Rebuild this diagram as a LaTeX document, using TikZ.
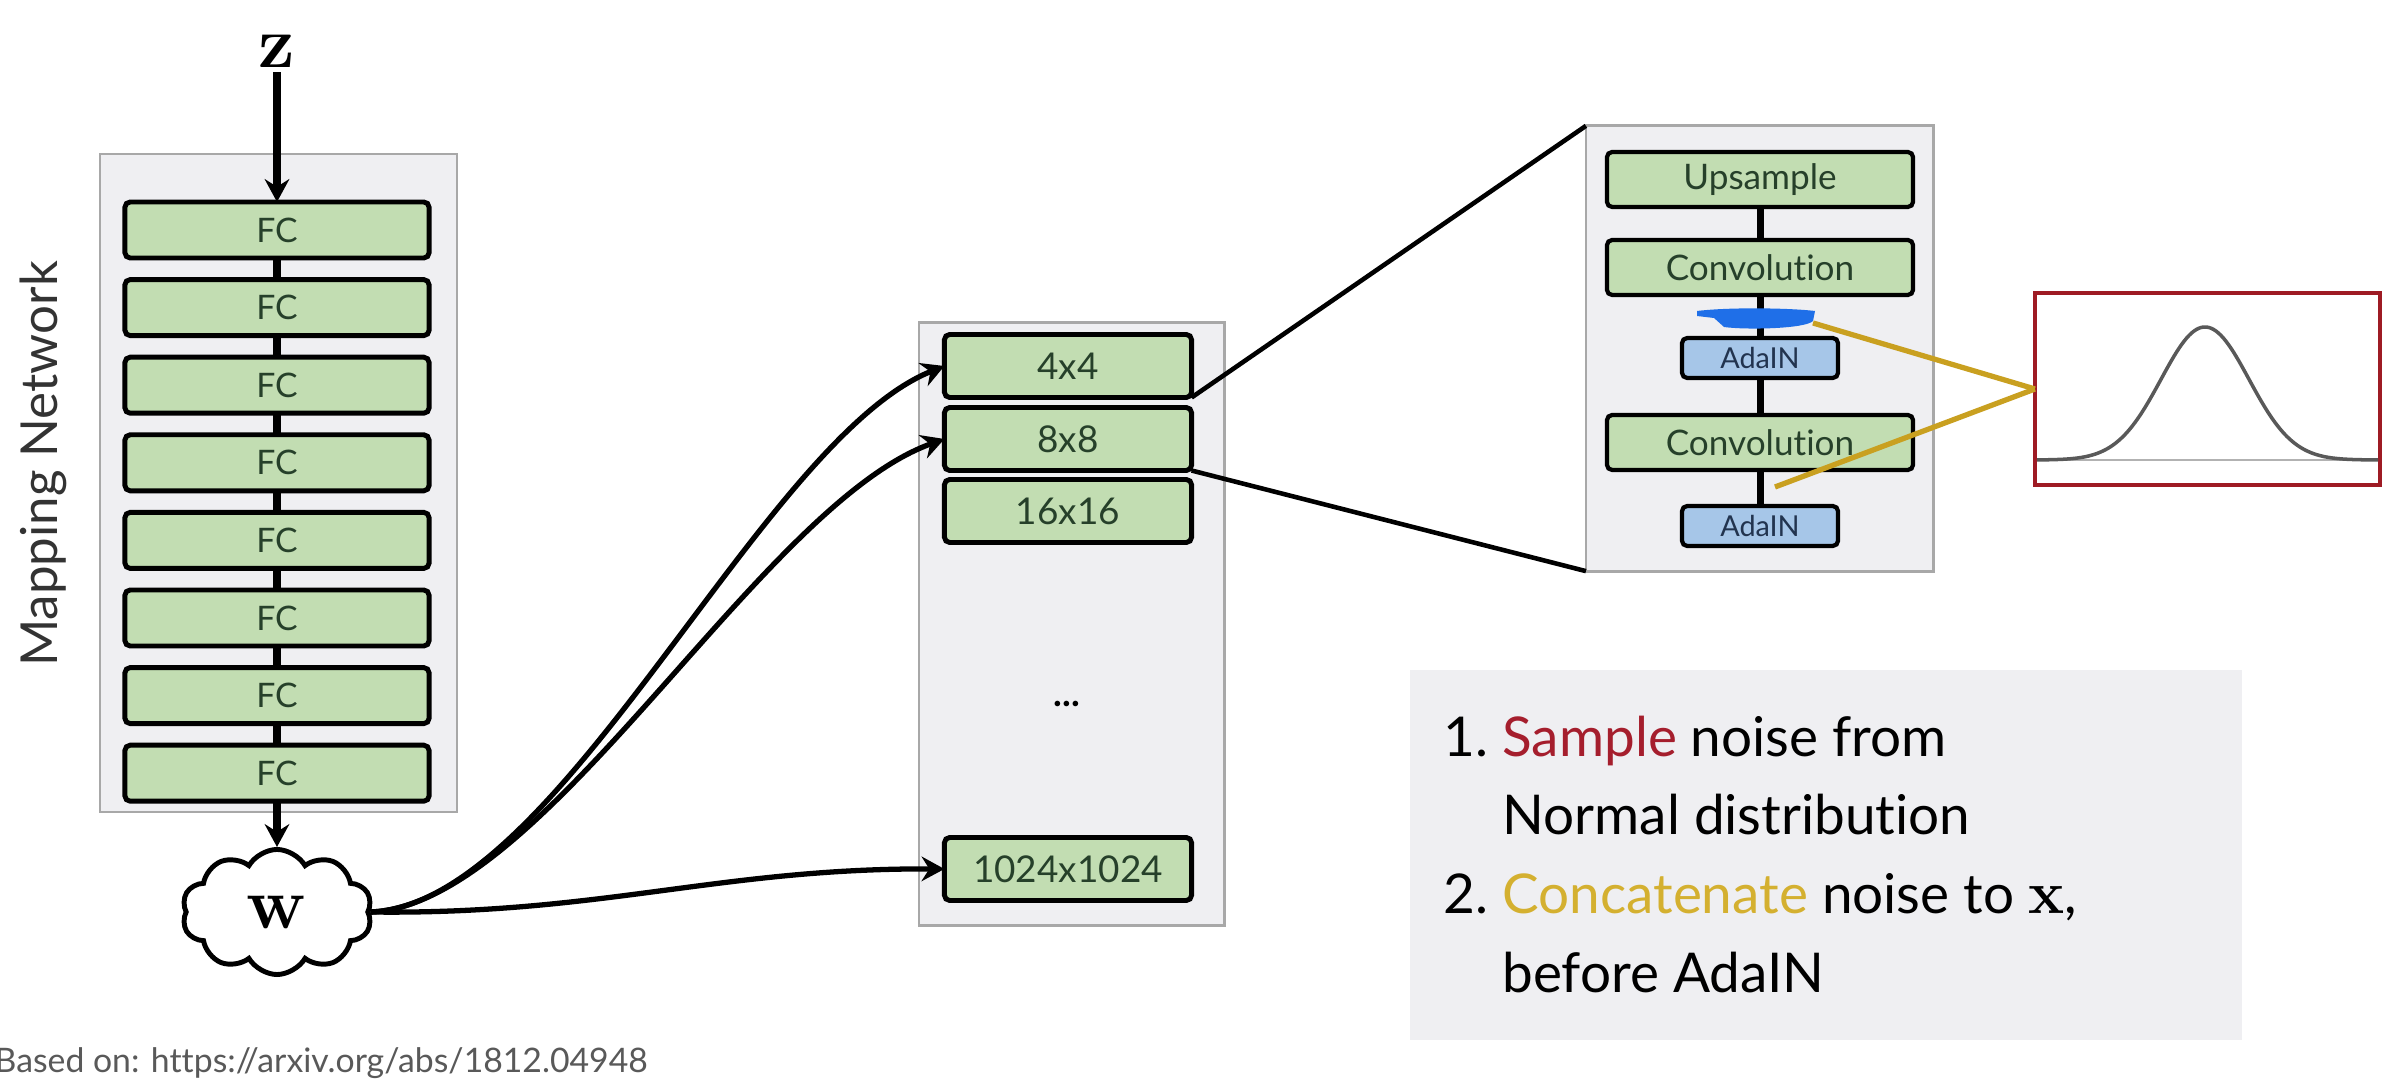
\documentclass[tikz,border=0pt]{standalone}
\usepackage[no-math]{fontspec}
\setmainfont{Lato}[Ligatures=NoCommon]
\usetikzlibrary{shapes.symbols,arrows.meta}
\definecolor{panelgray}{HTML}{EFEFF2}
\definecolor{panelline}{HTML}{A8A8A8}
\definecolor{boxgreen}{HTML}{C2DDB2}
\definecolor{boxblue}{HTML}{A6C6E8}
\definecolor{txtgreen}{HTML}{26402A}
\definecolor{txtblue}{HTML}{22344F}
\definecolor{sred}{HTML}{A51E2D}
\definecolor{sgold}{HTML}{D4B030}
\definecolor{linegold}{HTML}{C9A020}
\definecolor{noisered}{HTML}{9E1B24}
\definecolor{scribblue}{HTML}{1F6FE8}
\begin{document}
\begin{tikzpicture}[x=0.01cm,y=-0.01cm,
  panel/.style={fill=panelgray,draw=panelline,line width=0.8pt},
  greenbox/.style={draw=black,fill=boxgreen,line width=1.4pt,rounded corners=1.5pt,text=txtgreen,inner sep=0pt,outer sep=0pt},
  fcbox/.style={greenbox,minimum width=3.04cm,minimum height=0.56cm,font=\fontsize{9.6}{11}\selectfont},
  resbox/.style={greenbox,minimum width=2.47cm,minimum height=0.63cm,font=\fontsize{10.5}{12}\selectfont},
  layerbox/.style={greenbox,line width=1.2pt,minimum width=3.06cm,minimum height=0.55cm,font=\fontsize{10}{12}\selectfont},
  adabox/.style={greenbox,line width=1.2pt,fill=boxblue,text=txtblue,minimum width=1.56cm,minimum height=0.40cm,font=\fontsize{8.2}{10}\selectfont},
  link/.style={line width=2pt},
  flow/.style={line width=1.5pt,-{Stealth[length=6.5pt,width=7pt,inset=2.2pt]}},
  zoomline/.style={line width=1.3pt},
  noiseline/.style={draw=linegold,line width=1.5pt},
  listtext/.style={anchor=base west,inner sep=0pt,font=\fontsize{15.6}{18}\selectfont}
]
\useasboundingbox (0,0) rectangle (2387,1080);
\fill[white] (0,0) rectangle (2387,1080);

% ---------- mapping network ----------
\path[panel] (100,154) rectangle (457,812);
\node[rotate=90,text=black!80,font=\fontsize{14.5}{16}\selectfont] (mnlabel) at (43,464) {Mapping Network};
\foreach \i in {1,...,8}{
  \node[fcbox] (fc\i) at (277,{230+77.6*(\i-1)}) {FC};
}
\foreach \i/\j in {1/2,2/3,3/4,4/5,5/6,6/7,7/8}{
  \draw[link] (fc\i.south) -- (fc\j.north);
}
\node[font=\fontsize{20}{24}\selectfont,inner sep=1pt,anchor=base] (z) at (277,68) {$\mathbf{z}$};
\draw[flow,line width=2pt] (z.south) -- (fc1.north);

\node[cloud,cloud puffs=10,cloud puff arc=120,cloud ignores aspect,draw,line width=1.4pt,fill=white,
      minimum width=1.9cm,minimum height=1.25cm,inner sep=0pt,font=\fontsize{20}{24}\selectfont] (w) at (277,912) {$\mathbf{w}$};
\draw[flow,line width=2pt] (fc8.south) -- (w.north);

% ---------- synthesis column ----------
\node[panel,minimum width=3.05cm,minimum height=6.02cm,outer sep=0pt] (synth) at (1071.5,624) {};
\node[resbox] (r4) at (1068,366) {4x4};
\node[resbox] (r8) at (1068,439) {8x8};
\node[resbox] (r16) at (1068,511) {16x16};
\node[font=\fontsize{10.5}{12}\selectfont\bfseries] (dots) at (1067,704) {...};
\node[resbox] (r1024) at (1068,869) {1024x1024};

\draw[flow] (w.east) .. controls (560,905) and (760,440) .. (r4.west);
\draw[flow] (w.east) .. controls (545,905) and (760,505) .. (r8.west);
\draw[flow] (w.east) .. controls (600,915) and (720,868) .. (r1024.west);

% ---------- expanded block ----------
\node[panel,minimum width=3.47cm,minimum height=4.45cm,outer sep=0pt] (blk) at (1759.5,348.5) {};
\draw[zoomline] (r4.south east) -- (blk.north west);
\draw[zoomline] (r8.south east) -- (blk.south west);

\node[layerbox] (up) at (1760,179.5) {Upsample};
\node[layerbox] (conv1) at (1760,267.5) {Convolution};
\node[adabox] (ada1) at (1760,358) {AdaIN};
\node[layerbox] (conv2) at (1760,442.5) {Convolution};
\node[adabox] (ada2) at (1760,526) {AdaIN};
\draw[link] (up.south) -- (conv1.north);
\draw[link] (conv1.south) -- (ada1.north);
\draw[link] (ada1.south) -- (conv2.north);
\draw[link] (conv2.south) -- (ada2.north);

% blue highlight scribble
\fill[scribblue] (1697,311) .. controls (1730,307) and (1790,308) .. (1815,311)
  -- (1813,321) .. controls (1805,329) and (1745,330) .. (1724,327)
  -- (1714,318) .. controls (1706,317) .. (1697,316) -- cycle;
\coordinate (n1) at (1813,323);
\coordinate (n2) at (1775,487);

% ---------- noise box ----------
\node[draw=noisered,line width=1pt,fill=white,minimum width=3.45cm,minimum height=1.92cm,inner sep=0pt,outer sep=0pt] (noise) at (2207.5,389) {};
\draw[black!30,line width=0.8pt] (2037,460) -- (2378,460);
\draw[black!65,line width=1pt] plot[domain=2037:2378,samples=140,smooth] (\x,{460-133*exp(-0.5*((\x-2205)/44)^2)});

\draw[noiseline] (n1) -- (noise.west);
\draw[noiseline] (n2) -- (noise.west);

% ---------- text panel ----------
\fill[panelgray] (1410,670) rectangle (2242,1040);
\node[listtext] (l1) at (1443,757) {1.\ \textcolor{sred}{Sample} noise from};
\node[listtext] (l2) at (1443,835) {\phantom{1.}\ Normal distribution};
\node[listtext] (l3) at (1443,914) {2.\ \textcolor{sgold}{Concatenate} noise to {\fontsize{18}{20}\selectfont$\mathbf{x}$},};
\node[listtext] (l4) at (1443,993) {\phantom{2.}\ before AdaIN};

% ---------- source ----------
\node[anchor=base west,inner sep=0pt,text=black!65,font=\fontsize{9.6}{11}\selectfont] (src) at (-6,1073) {Based on: https://arxiv.org/abs/1812.04948};
\end{tikzpicture}
\end{document}
